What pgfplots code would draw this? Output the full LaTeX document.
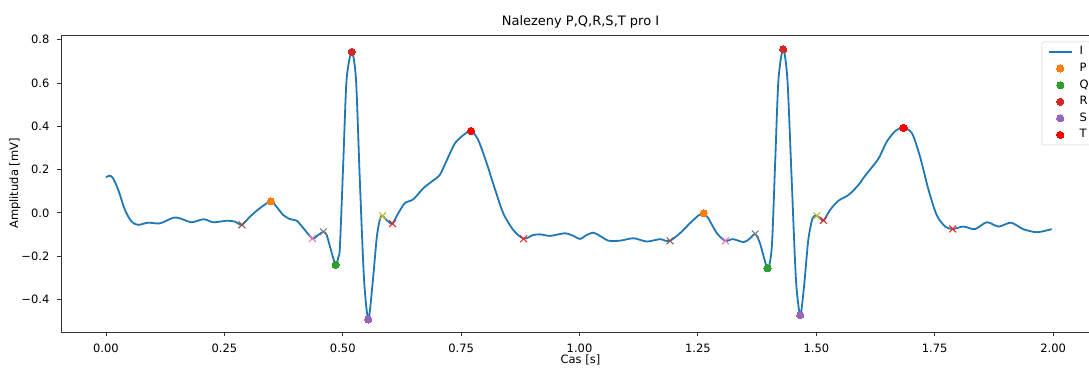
\documentclass[border=0pt]{standalone}
\usepackage{fontspec}
\setmainfont{DejaVu Sans}
\usepackage{pgfplots}
\pgfplotsset{compat=1.18}
\definecolor{tabblue}{HTML}{1F77B4}
\definecolor{taborange}{HTML}{FF7F0E}
\definecolor{tabgreen}{HTML}{2CA02C}
\definecolor{tabred}{HTML}{D62728}
\definecolor{tabpurple}{HTML}{9467BD}
\definecolor{tabbrown}{HTML}{8C564B}
\definecolor{tabpink}{HTML}{E377C2}
\definecolor{tabgray}{HTML}{7F7F7F}
\definecolor{tabolive}{HTML}{BCBD22}
\pgfplotsset{
  dotleg/.style={legend image code/.code={\draw[mark=*, only marks] plot coordinates {(11.5pt,0pt)};}},
  dot/.style={only marks, mark=*, mark size=3.6pt, color=#1, mark options={draw=#1, fill=#1, line width=0pt}},
  xm/.style={only marks, mark=x, mark size=4.8pt, color=#1, mark options={draw=#1, line width=1.1pt}, forget plot},
}
\begin{document}
\begin{tikzpicture}
\path[use as bounding box] (-61pt,-35pt) rectangle (1028pt,332pt);
\begin{axis}[
  at={(0pt,0pt)}, anchor=south west,
  scale only axis, width=1039pt, height=297pt,
  xmin=-0.095, xmax=2.099, ymin=-0.55, ymax=0.822,
  axis line style={black!80, line width=0.9pt},
  tick style={black!80, line width=0.9pt},
  major tick length=4pt, tick align=outside, tick pos=left,
  xtick={0,0.25,0.5,0.75,1,1.25,1.5,1.75,2},
  xticklabels={0.00,0.25,0.50,0.75,1.00,1.25,1.50,1.75,2.00},
  ytick={-0.4,-0.2,0,0.2,0.4,0.6,0.8},
  yticklabels={−0.4,−0.2,0.0,0.2,0.4,0.6,0.8},
  xticklabel style={font=\fontsize{11.5}{13}\selectfont, anchor=base, inner sep=0pt, yshift=-16.5pt},
  yticklabel style={font=\fontsize{11.5}{13}\selectfont, anchor=east, inner sep=0pt, xshift=-7.4pt},
  xticklabel shift=0pt, yticklabel shift=0pt,
  title={Nalezeny P,Q,R,S,T pro I},
  title style={font=\fontsize{13}{15}\selectfont, at={(axis description cs:0.5,1)}, anchor=base, yshift=3pt},
  xlabel={Cas [s]},
  xlabel style={font=\fontsize{11.5}{13}\selectfont, at={(axis description cs:0.5,0)}, anchor=base, yshift=-31pt},
  ylabel={Amplituda [mV]},
  ylabel style={font=\fontsize{11.5}{13}\selectfont, at={(axis description cs:-0.0443,0.5)}, anchor=center, rotate=0},
  legend cell align=left,
  legend style={at={(0.9439,0.9774)}, anchor=north west, draw=black!20, rounded corners=2pt,
    fill=white, font=\fontsize{11.5}{13}\selectfont, inner xsep=6pt, inner ysep=3.5pt,
    nodes={inner sep=1pt, text height=8.5pt, text depth=2.5pt}, row sep=3.6pt, column sep=6pt},
  legend image code/.code={\draw plot coordinates {(0pt,0pt) (23pt,0pt)};},
  clip=false,
]
\addplot[tabblue, line width=1.8pt, smooth, tension=0.45] coordinates {
(0.000,0.165) (0.008,0.172) (0.015,0.160) (0.026,0.106) (0.040,0.014) (0.054,-0.040)
(0.068,-0.055) (0.089,-0.045) (0.114,-0.048) (0.142,-0.022) (0.156,-0.025) (0.181,-0.043)
(0.206,-0.029) (0.227,-0.043) (0.255,-0.036) (0.272,-0.040) (0.287,-0.055) (0.304,-0.017)
(0.325,0.022) (0.348,0.054) (0.360,0.029) (0.374,-0.009) (0.389,-0.029) (0.403,-0.036)
(0.417,-0.071) (0.436,-0.118) (0.448,-0.102) (0.459,-0.087) (0.466,-0.102) (0.475,-0.171)
(0.485,-0.240) (0.491,-0.202) (0.494,-0.156) (0.501,0.229) (0.508,0.614) (0.519,0.744)
(0.528,0.614) (0.536,0.152) (0.545,-0.309) (0.554,-0.492) (0.563,-0.325) (0.572,-0.109)
(0.579,-0.025) (0.584,-0.014) (0.594,-0.036) (0.605,-0.049) (0.617,-0.002) (0.631,0.045)
(0.649,0.063) (0.670,0.114) (0.688,0.145) (0.705,0.176) (0.720,0.245) (0.737,0.322)
(0.755,0.360) (0.771,0.379) (0.786,0.337) (0.804,0.229) (0.822,0.106) (0.839,-0.002)
(0.860,-0.079) (0.882,-0.119) (0.902,-0.102) (0.917,-0.099) (0.938,-0.106) (0.969,-0.094)
(0.987,-0.106) (1.001,-0.120) (1.015,-0.102) (1.029,-0.091) (1.043,-0.106) (1.061,-0.128)
(1.086,-0.128) (1.114,-0.117) (1.142,-0.132) (1.170,-0.121) (1.181,-0.128) (1.191,-0.129)
(1.212,-0.094) (1.233,-0.048) (1.251,-0.012) (1.262,-0.002) (1.272,-0.025) (1.290,-0.094)
(1.308,-0.129) (1.324,-0.121) (1.347,-0.135) (1.360,-0.117) (1.371,-0.097) (1.381,-0.140)
(1.397,-0.255) (1.406,-0.156) (1.413,0.229) (1.420,0.614) (1.430,0.756) (1.439,0.614)
(1.448,0.152) (1.457,-0.309) (1.466,-0.472) (1.474,-0.340) (1.483,-0.125) (1.492,-0.025)
(1.501,-0.013) (1.515,-0.034) (1.529,0.014) (1.547,0.057) (1.568,0.083) (1.589,0.129)
(1.599,0.160) (1.610,0.191) (1.631,0.250) (1.649,0.330) (1.667,0.379) (1.684,0.393)
(1.702,0.368) (1.719,0.260) (1.737,0.106) (1.754,-0.009) (1.772,-0.063) (1.788,-0.074)
(1.811,-0.063) (1.835,-0.075) (1.860,-0.043) (1.885,-0.063) (1.911,-0.045) (1.937,-0.075)
(1.966,-0.089) (1.997,-0.075)
};
\addlegendentry{I}
\addplot[dot=taborange, dotleg] coordinates {(0.348,0.054) (1.262,-0.002)};
\addlegendentry{P}
\addplot[dot=tabgreen, dotleg] coordinates {(0.485,-0.240) (1.397,-0.255)};
\addlegendentry{Q}
\addplot[dot=tabred, dotleg] coordinates {(0.519,0.744) (1.430,0.756)};
\addlegendentry{R}
\addplot[dot=tabpurple, dotleg] coordinates {(0.554,-0.492) (1.466,-0.472)};
\addlegendentry{S}
\addplot[dot=red, dotleg] coordinates {(0.771,0.379) (1.684,0.393)};
\addlegendentry{T}
\addplot[xm=tabbrown] coordinates {(0.287,-0.055) (1.191,-0.129)};
\addplot[xm=tabpink] coordinates {(0.436,-0.118) (1.308,-0.129)};
\addplot[xm=tabgray] coordinates {(0.459,-0.087) (1.371,-0.097)};
\addplot[xm=tabolive] coordinates {(0.584,-0.014) (1.501,-0.013)};
\addplot[xm=tabred] coordinates {(0.605,-0.049) (1.515,-0.034)};
\addplot[xm=red!85] coordinates {(0.882,-0.119) (1.788,-0.074)};
\end{axis}
\end{tikzpicture}
\end{document}
